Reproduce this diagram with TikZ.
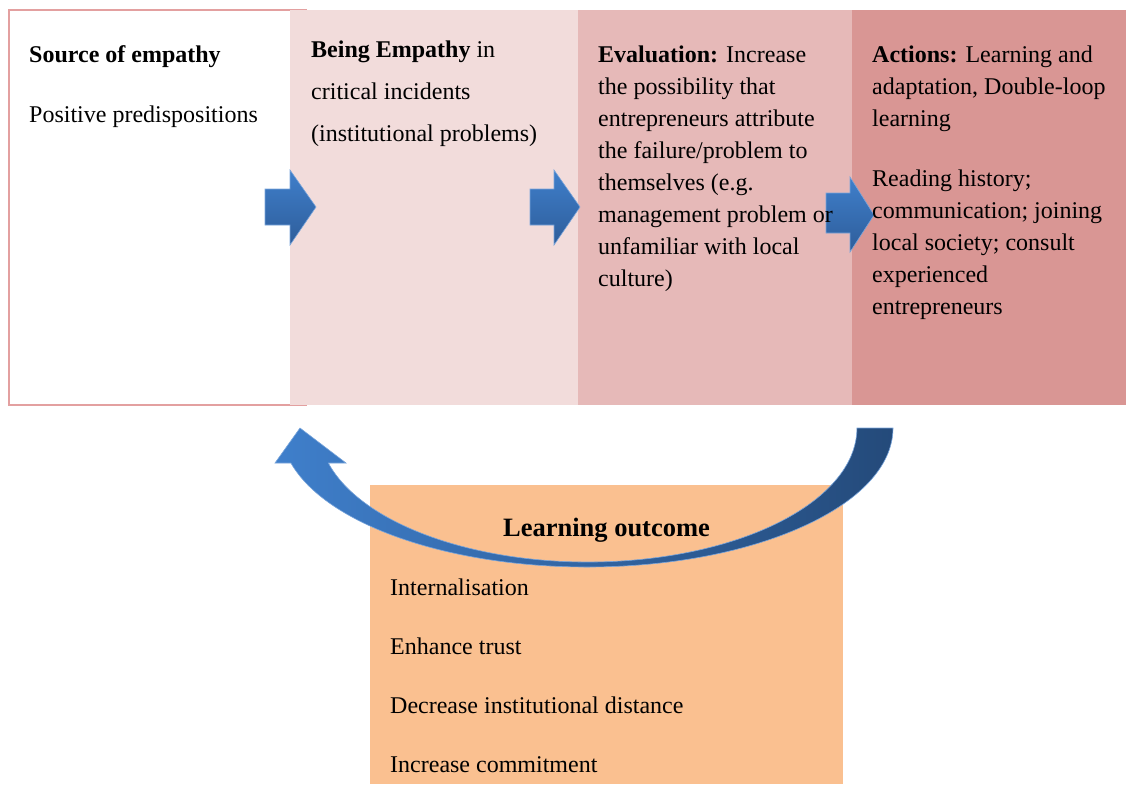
\documentclass[tikz,border=0pt]{standalone}
\usepackage{fontspec}
\setmainfont{Liberation Serif}
\definecolor{bxtwo}{HTML}{F2DCDB}
\definecolor{bxthree}{HTML}{E6B9B8}
\definecolor{bxfour}{HTML}{D99694}
\definecolor{lobox}{HTML}{FAC090}
\definecolor{bord}{HTML}{E3A0A0}
\definecolor{blueA}{HTML}{3F7FCB}
\definecolor{blueB}{HTML}{2E5D9A}
\definecolor{blueC}{HTML}{244A7A}
\tikzset{
  panel/.style={rectangle, anchor=north west, inner sep=0pt, outer sep=0pt},
  txt/.style={anchor=base west, inner sep=0pt, font=\fontsize{24}{31.9}\selectfont},
  barrow/.style={top color=blueA, bottom color=blueB, draw=blueA!70!white, line width=0.6pt},
}
\begin{document}
\begin{tikzpicture}[x=1pt,y=-1pt]
\useasboundingbox (0,0) rectangle (1126,784);
% panels
\node[panel, draw=bord, line width=1.5pt, minimum width=297pt, minimum height=395pt] (b1) at (9,10) {};
\node[panel, fill=bxtwo, minimum width=288pt, minimum height=395pt] (b2) at (290,10) {};
\node[panel, fill=bxthree, minimum width=274pt, minimum height=395pt] (b3) at (578,10) {};
\node[panel, fill=bxfour, minimum width=274pt, minimum height=395pt] (b4) at (852,10) {};
\node[panel, fill=lobox, minimum width=473pt, minimum height=299pt] (lo) at (370,485) {};
% block arrows
\shade[barrow] (265,189) -- (290,189) -- (290,170) -- (316,207) -- (290,245) -- (290,225) -- (265,225) -- cycle;
\shade[barrow] (530,189) -- (554,189) -- (554,170) -- (580,207) -- (554,245) -- (554,225) -- (530,225) -- cycle;
\shade[barrow] (826,193) -- (850,193) -- (850,177) -- (874,215) -- (850,252) -- (850,233) -- (826,233) -- cycle;
% texts
\node[txt] (t1) at (29,63) {\parbox[t]{260pt}{\textbf{Source of empathy}\\[28pt]Positive predispositions}};
\node[txt, font=\fontsize{24}{41.5}\selectfont] (t2) at (311,58) {\parbox[t]{260pt}{\textbf{Being Empathy} in\\critical incidents\\(institutional problems)}};
\node[txt] (t3) at (598,63) {\parbox[t]{260pt}{\textbf{Evaluation:} Increase\\the possibility that\\entrepreneurs attribute\\the failure/problem to\\themselves (e.g.\\management problem or\\unfamiliar with local\\culture)}};
\node[txt] (t4) at (872,63) {\parbox[t]{250pt}{\textbf{Actions:} Learning and\\adaptation, Double-loop\\learning\\[28pt]Reading history;\\communication; joining\\local society; consult\\experienced\\entrepreneurs}};
\node[txt, font=\fontsize{24}{59}\selectfont] (t5) at (390,595) {\parbox[t]{440pt}{Internalisation\\Enhance trust\\Decrease institutional distance\\Increase commitment}};
% curved arrow
\shade[left color=blueA, right color=blueC, draw=blueA!70!white, line width=0.6pt]
  (893,428) arc[start angle=0, end angle=165.4, x radius=306, y radius=139]
  -- (275,463) -- (300,428) -- (346,463) -- (328.3,463)
  arc[start angle=164.86, end angle=0, x radius=269, y radius=134] -- cycle;
\node[anchor=base, inner sep=0pt, font=\fontsize{26.5}{30}\selectfont\bfseries] (t6) at (606.5,536) {Learning outcome};
\end{tikzpicture}
\end{document}
